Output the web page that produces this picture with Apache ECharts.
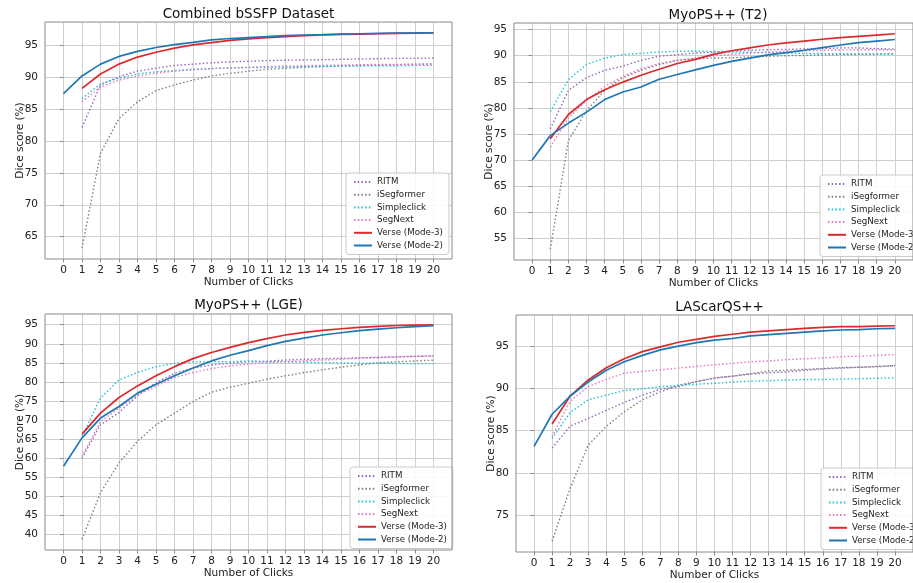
<!DOCTYPE html>
<html>
	<head>
		<meta charset="utf-8" />
		<title>Dice vs clicks</title>
		<style type="text/css">
			body,
			html,
			#chart {
				width: 100%;
				height: 100%;
				overflow: hidden;
				margin: 0;
				background: #fff;
			}
		</style>
	</head>
	<body>
		<div id="chart"></div>
		<script src="https://cdn.jsdelivr.net/npm/echarts@6/dist/echarts.min.js"></script>
		<script>
			// x ticks and labels
			var clicks = [0, 1, 2, 3, 4, 5, 6, 7, 8, 9, 10, 11, 12, 13, 14, 15, 16, 17, 18, 19, 20];
			var panelTitles = ['Combined bSSFP Dataset', 'MyoPS++ (T2)', 'MyoPS++ (LGE)', 'LAScarQS++'];
			var methodNames = ['RITM', 'iSegformer', 'Simpleclick', 'SegNext', 'Verse (Mode-3)', 'Verse (Mode-2)'];

			// y tick labels per panel
			var bssfpTicks = [65, 70, 75, 80, 85, 90, 95];
			var t2Ticks = [55, 60, 65, 70, 75, 80, 85, 90, 95];
			var lgeTicks = [40, 45, 50, 55, 60, 65, 70, 75, 80, 85, 90, 95];
			var lascarTicks = [75, 80, 85, 90, 95];

			// Combined bSSFP (baselines + Mode-3 from click 1, Mode-2 from click 0)
			var bssfpRitm = [82.1, 88.75, 90.05, 90.9, 91.35, 91.8, 92.0, 92.2, 92.35, 92.45, 92.55, 92.6, 92.65, 92.7, 92.75, 92.8, 92.85, 92.9, 92.9, 92.95];
			var bssfpIseg = [63.2, 78.05, 83.5, 86.1, 87.85, 88.75, 89.5, 90.15, 90.55, 90.9, 91.2, 91.35, 91.5, 91.6, 91.7, 91.8, 91.85, 91.9, 91.95, 92.0];
			var bssfpSimple = [86.6, 88.9, 89.8, 90.45, 90.8, 91.0, 91.2, 91.3, 91.4, 91.45, 91.5, 91.55, 91.6, 91.65, 91.7, 91.7, 91.75, 91.75, 91.8, 91.8];
			var bssfpSegnext = [86.1, 88.4, 89.5, 90.15, 90.55, 90.9, 91.1, 91.3, 91.4, 91.5, 91.6, 91.7, 91.75, 91.8, 91.85, 91.9, 91.95, 91.95, 92.0, 92.05];
			var bssfpMode3 = [88.2, 90.45, 92.0, 93.1, 93.85, 94.5, 95.0, 95.35, 95.7, 95.95, 96.15, 96.3, 96.45, 96.55, 96.65, 96.7, 96.75, 96.8, 96.85, 96.88];
			var bssfpMode2 = [87.4, 90.15, 92.0, 93.2, 94.0, 94.6, 95.05, 95.4, 95.8, 96.0, 96.15, 96.3, 96.45, 96.55, 96.6, 96.7, 96.75, 96.8, 96.85, 96.87, 96.9];

			// MyoPS++ (T2)
			var t2Ritm = [76.0, 83.35, 85.8, 87.2, 88.0, 89.1, 89.9, 90.2, 90.5, 90.7, 90.9, 91.05, 91.15, 91.2, 91.3, 91.35, 91.5, 91.5, 91.35, 91.3];
			var t2Iseg = [52.95, 73.75, 79.5, 83.35, 85.8, 87.2, 88.3, 89.1, 89.45, 89.55, 89.6, 89.75, 89.9, 90.0, 90.05, 90.15, 90.2, 90.25, 90.3, 90.4];
			var t2Simple = [79.3, 85.4, 88.3, 89.55, 90.2, 90.45, 90.7, 90.85, 90.85, 90.8, 90.7, 90.65, 90.6, 90.5, 90.45, 90.4, 90.4, 90.35, 90.35, 90.3];
			var t2Segnext = [72.5, 78.1, 81.45, 84.1, 86.05, 87.5, 88.5, 89.1, 89.6, 90.0, 90.25, 90.5, 90.7, 90.85, 90.95, 91.05, 91.1, 91.15, 91.15, 91.15];
			var t2Mode3 = [74.1, 78.75, 81.6, 83.5, 84.95, 86.25, 87.4, 88.5, 89.3, 90.25, 90.95, 91.5, 92.05, 92.45, 92.8, 93.15, 93.45, 93.7, 93.95, 94.2];
			var t2Mode2 = [70.05, 74.7, 77.1, 79.2, 81.6, 83.05, 84.0, 85.5, 86.4, 87.3, 88.15, 88.9, 89.55, 90.15, 90.6, 91.05, 91.55, 92.05, 92.5, 92.8, 93.1];

			// MyoPS++ (LGE)
			var lgeRitm = [60.0, 68.75, 71.95, 76.35, 79.8, 82.25, 83.6, 84.45, 84.9, 85.25, 85.4, 85.75, 85.9, 86.1, 86.2, 86.3, 86.45, 86.55, 86.7, 86.8];
			var lgeIseg = [38.7, 50.9, 58.75, 64.4, 68.75, 71.8, 74.85, 77.3, 78.6, 79.65, 80.7, 81.6, 82.45, 83.15, 83.85, 84.45, 85.0, 85.25, 85.5, 85.7];
			var lgeSimple = [65.7, 75.75, 80.55, 82.45, 84.0, 84.9, 85.25, 85.3, 85.3, 85.5, 85.3, 85.25, 85.15, 85.05, 85.0, 84.9, 84.9, 84.8, 84.8, 84.8];
			var lgeSegnext = [60.45, 69.6, 73.1, 76.6, 78.8, 81.2, 82.45, 83.5, 84.2, 84.7, 85.05, 85.3, 85.5, 85.75, 85.95, 86.2, 86.35, 86.6, 86.7, 86.8];
			var lgeMode3 = [66.3, 71.8, 75.9, 78.95, 81.6, 84.0, 86.1, 87.7, 89.05, 90.3, 91.35, 92.3, 93.0, 93.5, 93.95, 94.3, 94.55, 94.8, 94.9, 95.0];
			var lgeMode2 = [57.85, 65.3, 70.5, 73.55, 77.05, 79.4, 81.6, 83.65, 85.5, 87.0, 88.2, 89.5, 90.65, 91.5, 92.3, 92.9, 93.45, 93.85, 94.2, 94.5, 94.75];

			// LAScarQS++
			var lascarRitm = [82.95, 85.55, 86.45, 87.4, 88.35, 89.2, 89.9, 90.2, 90.8, 91.2, 91.45, 91.7, 91.85, 91.95, 92.15, 92.3, 92.4, 92.5, 92.55, 92.7];
			var lascarIseg = [71.95, 78.2, 83.3, 85.5, 87.25, 88.65, 89.6, 90.4, 90.8, 91.25, 91.45, 91.75, 92.05, 92.15, 92.25, 92.35, 92.45, 92.5, 92.6, 92.7];
			var lascarSimple = [84.1, 87.15, 88.65, 89.2, 89.75, 89.95, 90.2, 90.35, 90.5, 90.6, 90.75, 90.85, 90.9, 91.0, 91.05, 91.05, 91.1, 91.15, 91.2, 91.25];
			var lascarSegnext = [84.3, 88.5, 90.2, 91.05, 91.8, 92.0, 92.2, 92.4, 92.6, 92.8, 92.95, 93.15, 93.25, 93.4, 93.5, 93.6, 93.75, 93.8, 93.9, 94.0];
			var lascarMode3 = [85.8, 89.1, 91.0, 92.45, 93.5, 94.35, 94.9, 95.45, 95.8, 96.15, 96.4, 96.65, 96.8, 96.95, 97.1, 97.2, 97.3, 97.3, 97.35, 97.4];
			var lascarMode2 = [83.15, 86.95, 89.1, 90.75, 92.15, 93.15, 93.9, 94.55, 95.0, 95.4, 95.7, 95.9, 96.2, 96.35, 96.5, 96.65, 96.8, 96.9, 96.95, 97.05, 97.1];

			var panels = [
				{ ticks: bssfpTicks, lines: [bssfpRitm, bssfpIseg, bssfpSimple, bssfpSegnext, bssfpMode3, bssfpMode2] },
				{ ticks: t2Ticks, lines: [t2Ritm, t2Iseg, t2Simple, t2Segnext, t2Mode3, t2Mode2] },
				{ ticks: lgeTicks, lines: [lgeRitm, lgeIseg, lgeSimple, lgeSegnext, lgeMode3, lgeMode2] },
				{ ticks: lascarTicks, lines: [lascarRitm, lascarIseg, lascarSimple, lascarSegnext, lascarMode3, lascarMode2] }
			];

			// layout of the 2x2 figure
			var grids = [
				{ left: 45, top: 22, width: 407, height: 237 },
				{ left: 514, top: 23, width: 408, height: 237 },
				{ left: 45, top: 314, width: 407, height: 236 },
				{ left: 516, top: 315, width: 407, height: 237 }
			];
			var legendPos = [
				{ left: 346, top: 173 },
				{ left: 820, top: 175 },
				{ left: 350, top: 467 },
				{ left: 821, top: 468 }
			];
			var titleTop = [7.5, 8.5, 298.5, 300.5];

			var colors = ['#9467bd', '#7f7f7f', '#1cc3d4', '#e377c2', '#dc2a2c', '#1f77b4'];
			var dotted = [1.5, 2.2];
			var font = 'DejaVu Sans';

			function pairs(vals, start) {
				return vals.map(function (v, i) {
					return [clicks[start + i], v];
				});
			}

			var option = {
				animation: false,
				backgroundColor: '#fff',
				textStyle: { fontFamily: font },
				title: [],
				grid: [],
				xAxis: [],
				yAxis: [],
				legend: [],
				series: []
			};

			panels.forEach(function (p, k) {
				var g = grids[k];
				option.grid.push({
					left: g.left, top: g.top, width: g.width, height: g.height,
					show: true, z: 10, borderColor: '#8a8a8a', borderWidth: 1,
					backgroundColor: 'transparent'
				});
				option.title.push({
					text: panelTitles[k],
					left: g.left + g.width / 2,
					top: titleTop[k],
					textAlign: 'center',
					padding: 0,
					textStyle: { fontFamily: font, fontSize: 13.5, fontWeight: 'normal', color: '#111' }
				});
				option.xAxis.push({
					type: 'value', gridIndex: k,
					min: -1, max: 21, interval: 1,
					name: 'Number of Clicks', nameLocation: 'middle', nameGap: 17,
					nameTextStyle: { fontFamily: font, fontSize: 10.5, color: '#222' },
					axisLine: { show: false },
					axisTick: { show: true, length: 3.5, lineStyle: { color: '#8a8a8a' }, customValues: clicks },
					axisLabel: { fontFamily: font, fontSize: 10.5, color: '#222', margin: 6, customValues: clicks },
					splitLine: { show: true, lineStyle: { color: '#cfcfcf', width: 1 } }
				});
				option.yAxis.push({
					type: 'value', gridIndex: k,
					min: function (v) { return v.min - 0.05 * (v.max - v.min); },
					max: function (v) { return v.max + 0.05 * (v.max - v.min); },
					minInterval: 5, maxInterval: 5,
					name: 'Dice score (%)', nameLocation: 'middle', nameGap: 19, nameRotate: 90,
					nameMoveOverlap: false,
					nameTextStyle: { fontFamily: font, fontSize: 10.5, color: '#222' },
					axisLine: { show: false },
					axisTick: { show: true, length: 3.5, lineStyle: { color: '#8a8a8a' }, customValues: p.ticks },
					axisLabel: { fontFamily: font, fontSize: 10.5, color: '#222', margin: 7, customValues: p.ticks },
					splitLine: { show: true, lineStyle: { color: '#cfcfcf', width: 1 } }
				});
				option.legend.push({
					orient: 'vertical',
					left: legendPos[k].left, top: legendPos[k].top,
					data: methodNames,
					itemWidth: 18, itemHeight: 8, itemGap: 2.7,
					padding: [4, 6, 4, 7],
					backgroundColor: 'rgba(255,255,255,0.85)',
					borderColor: '#cccccc', borderWidth: 1, borderRadius: 3,
					selectedMode: false,
					itemStyle: { opacity: 0 },
					textStyle: { fontFamily: font, fontSize: 8.7, color: '#222', lineHeight: 10 }
				});
				p.lines.forEach(function (vals, m) {
					var solid = m >= 4;
					option.series.push({
						name: methodNames[m],
						type: 'line',
						xAxisIndex: k, yAxisIndex: k,
						data: pairs(vals, m === 5 ? 0 : 1),
						symbol: 'none',
						smooth: false,
						clip: true,
						itemStyle: { color: colors[m] },
						lineStyle: { color: colors[m], width: solid ? 1.7 : 1.4, type: solid ? 'solid' : dotted }
					});
				});
			});

			var chart = echarts.init(document.getElementById('chart'), null, { renderer: 'canvas' });
			chart.setOption(option);
		</script>
	</body>
</html>
